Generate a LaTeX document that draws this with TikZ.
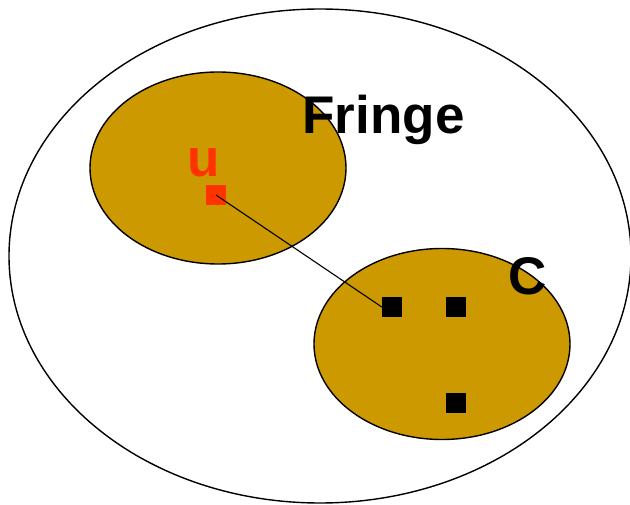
\documentclass[tikz,border=0pt]{standalone}
\usepackage{fontspec}
\setmainfont{Liberation Sans}
\definecolor{gold}{HTML}{CC9900}
\definecolor{redu}{HTML}{FF3300}
\tikzset{
  blob/.style={draw=black, line width=1.4pt, fill=gold},
  outerline/.style={draw=black, line width=1.4pt},
  vertexbox/.style={rectangle, fill=black, minimum size=20pt, inner sep=0pt},
  lbl/.style={anchor=base, inner sep=0pt, font=\fontsize{53}{60}\selectfont\bfseries},
  conn/.style={draw=black, line width=1.1pt}
}
\begin{document}
\begin{tikzpicture}[x=1pt,y=-1pt]
\useasboundingbox (0,0) rectangle (630,505);
\fill[white] (0,0) rectangle (630,505);
\draw[outerline] (320,256) ellipse [x radius=311pt, y radius=247pt];
\draw[blob] (218,168) ellipse [x radius=128pt, y radius=96pt];
\draw[blob] (442,344) ellipse [x radius=128pt, y radius=95.5pt];
\node[vertexbox, fill=redu] (u) at (216,195) {};
\node[vertexbox] (c1) at (392,307) {};
\node[vertexbox] (c2) at (456,307) {};
\node[vertexbox] (c3) at (456,403) {};
\draw[conn] (u.center) -- (c1.west);
\node[lbl] (fringe) at (383.5,134) {Fringe};
\node[lbl, text=redu] (ulabel) at (204,177) {u};
\node[lbl] (clabel) at (528,295) {C};
\end{tikzpicture}
\end{document}
